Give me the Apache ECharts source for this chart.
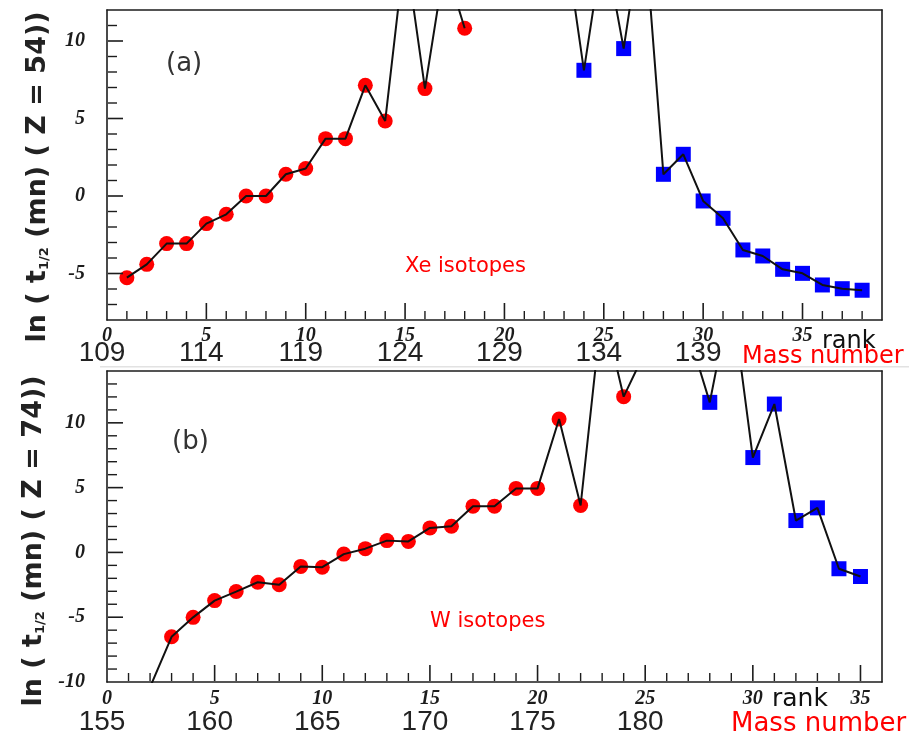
<!DOCTYPE html>
<html>
<head>
<meta charset="utf-8">
<title>Half-lives of Xe and W isotopes</title>
<script src="https://cdn.jsdelivr.net/npm/echarts@6/dist/echarts.min.js"></script>
<style>
  html, body { margin: 0; padding: 0; background: #fff; }
  #chart { width: 909px; height: 738px; }
</style>
</head>
<body>
<div id="chart"></div>
<script>
// ---- Xe (Z = 54): rank along the chain, ln of half-life in minutes ----
const xeRank = [1, 2, 3, 4, 5, 6, 7, 8, 9, 10, 11, 12, 13, 14, 15, 16, 17, 18, 19, 20,
                21, 22, 23, 24, 25, 26, 27, 28, 29, 30, 31, 32, 33, 34, 35, 36, 37, 38];
const xeLnT  = [-5.27, -4.41, -3.07, -3.07, -1.78, -1.18, 0.0, 0.0, 1.40, 1.77,
                3.70, 3.70, 7.14, 4.84, 16.0, 6.93, 15.0, 10.82, null, null,
                null, null, 17.0, 8.11, 16.5, 9.51, 18.0, 1.40, 2.69, -0.32,
                -1.44, -3.48, -3.87, -4.73, -4.99, -5.74, -5.98, -6.08];
const xeLightSideMaxRank = 22;          // red circles up to here, blue squares after

// ---- W (Z = 74) ----
const wRank = [2, 3, 4, 5, 6, 7, 8, 9, 10, 11, 12, 13, 14, 15, 16, 17, 18, 19, 20,
               21, 22, 23, 24, 25, 26, 27, 28, 29, 30, 31, 32, 33, 34, 35];
const wLnT  = [-10.4, -6.51, -5.01, -3.72, -3.02, -2.30, -2.50, -1.08, -1.14, -0.13,
               0.29, 0.91, 0.85, 1.89, 2.02, 3.57, 3.57, 4.94, 4.94, 10.29,
               3.62, 19.0, 12.02, 15.5, 20.0, 17.0, 11.58, 20.0, 7.32, 11.45,
               2.46, 3.44, -1.26, -1.86];
const wLightSideMaxRank = 25;

// ---- tick labels ----
const rankTicksXe = [0, 5, 10, 15, 20, 25, 30, 35];
const massTicksXe = ['109', '114', '119', '124', '129', '134', '139'];
const rankTicksW  = [0, 5, 10, 15, 20, 25, 30, 35];
const massTicksW  = ['155', '160', '165', '170', '175', '180'];
const yTicksXe = [-5, 0, 5, 10];
const yTicksW  = [-10, -5, 0, 5, 10];

// ---- axis ranges ----
const xeRankMax = 39, xeLnMin = -8, xeLnMax = 12;
const wRankMax = 36, wLnMin = -10, wLnMax = 14;

const RED = '#ff0000';
const BLUE = '#0000ff';
const INK = '#1c1c1c';
const SERIF = '"Liberation Serif", "DejaVu Serif", serif';
const SANS = '"DejaVu Sans", "Liberation Sans", sans-serif';

function pairs(ranks, vals) {
  return ranks.map((r, i) => [r, vals[i] === null ? '-' : vals[i]]);
}
function pick(ranks, vals, test) {
  const out = [];
  ranks.forEach((r, i) => { if (vals[i] !== null && test(r)) out.push([r, vals[i]]); });
  return out;
}
function intRange(a, b) {
  const out = [];
  for (let v = Math.ceil(a); v <= b; v++) out.push(v);
  return out;
}

const frameLine = { show: true, onZero: false, lineStyle: { color: INK, width: 1.6 } };
const noLine = { show: false, onZero: false };

// x axes per panel: rank labels + bottom edge, mass labels, top edge
function xAxesFor(gridIndex, max, rankTicks, massTicks, rankMargin, massMargin, massSize) {
  const base = {
    type: 'value', gridIndex, min: 0, max, interval: 5, position: 'bottom', offset: 0,
    splitLine: { show: false }, axisTick: { show: false }
  };
  return [
    Object.assign({}, base, {
      axisLine: frameLine,
      axisLabel: {
        margin: rankMargin, fontFamily: SERIF, fontStyle: 'italic', fontWeight: 'bold',
        fontSize: 20, color: INK,
        formatter: v => rankTicks.indexOf(v) >= 0 ? String(v) : ''
      }
    }),
    Object.assign({}, base, {
      axisLine: noLine,
      axisLabel: {
        margin: massMargin, fontFamily: '"Liberation Sans", sans-serif', fontSize: massSize,
        color: '#222', padding: [0, 10, 0, 0],
        formatter: v => {
          const k = rankTicks.indexOf(v);
          return k >= 0 && k < massTicks.length ? massTicks[k] : '';
        }
      }
    }),
    Object.assign({}, base, {
      position: 'top', axisLine: frameLine, axisLabel: { show: false }
    })
  ];
}

// y axes per panel: labels + left edge, right edge
function yAxesFor(gridIndex, min, max, yTicks) {
  const base = {
    type: 'value', gridIndex, min, max, position: 'left', offset: 0,
    splitLine: { show: false }, axisTick: { show: false }
  };
  return [
    Object.assign({}, base, {
      splitNumber: Math.round((max - min) / 5), minInterval: 5, maxInterval: 5,
      axisLine: frameLine,
      axisLabel: {
        margin: 22, fontFamily: SERIF, fontStyle: 'italic', fontWeight: 'bold',
        fontSize: 20, color: INK, showMinLabel: true, showMaxLabel: true,
        formatter: v => yTicks.indexOf(v) >= 0 ? String(v) : ''
      }
    }),
    Object.assign({}, base, {
      position: 'right', interval: 1, axisLine: frameLine, axisLabel: { show: false }
    })
  ];
}

// Inward tick marks on the bottom edge: each item holds a rank and a value inside the
// plot; the mark itself is anchored on the axis minimum.
function xTickSeries(xIdx, yIdx, xMax, yMin, yMax) {
  const yInside = (yMin + yMax) / 2;
  return {
    type: 'custom', xAxisIndex: xIdx, yAxisIndex: yIdx, z: 6, clip: false, silent: true,
    data: intRange(1, xMax - 1).map(v => [v, yInside]),
    renderItem: (params, api) => {
      const v = api.value(0);
      const base = api.coord([v, yMin]);
      const major = v % 5 === 0;
      const len = major ? 17 : 9;
      return {
        type: 'line',
        shape: { x1: base[0], y1: base[1] - 1, x2: base[0], y2: base[1] - len },
        style: { stroke: INK, lineWidth: major ? 1.6 : 1.4 }
      };
    }
  };
}

// Inward tick marks on the left edge, anchored on rank 0
function yTickSeries(xIdx, yIdx, xMax, yMin, yMax) {
  const xInside = xMax / 2;
  return {
    type: 'custom', xAxisIndex: xIdx, yAxisIndex: yIdx, z: 6, clip: false, silent: true,
    data: intRange(yMin + 1, yMax - 1).map(v => [xInside, v]),
    renderItem: (params, api) => {
      const v = api.value(1);
      const base = api.coord([0, v]);
      const major = Math.abs(v % 5) === 0;
      const len = major ? 16 : 10;
      return {
        type: 'line',
        shape: { x1: base[0] + 1, y1: base[1], x2: base[0] + len, y2: base[1] },
        style: { stroke: INK, lineWidth: major ? 1.6 : 1.4 }
      };
    }
  };
}

function panelSeries(xIdx, yIdx, ranks, vals, lightMax) {
  return [
    {
      type: 'scatter', xAxisIndex: xIdx, yAxisIndex: yIdx, z: 2,
      symbol: 'circle', symbolSize: 15, itemStyle: { color: RED, opacity: 1 },
      data: pick(ranks, vals, r => r <= lightMax), clip: true
    },
    {
      type: 'scatter', xAxisIndex: xIdx, yAxisIndex: yIdx, z: 2,
      symbol: 'rect', symbolSize: 15, itemStyle: { color: BLUE, opacity: 1 },
      data: pick(ranks, vals, r => r > lightMax), clip: true
    },
    {
      type: 'line', xAxisIndex: xIdx, yAxisIndex: yIdx, z: 3,
      showSymbol: false, symbol: 'none', connectNulls: false, clip: true,
      lineStyle: { color: '#111', width: 2 },
      data: pairs(ranks, vals)
    }
  ];
}

function axisTitle(x, y, z) {
  return {
    type: 'text', x, y, rotation: Math.PI / 2,
    style: {
      text: 'ln ( t{s|1/2} (mn) ( Z = ' + z + '))',
      fontFamily: SANS, fontSize: 27, fontWeight: 'bold', fill: '#222',
      align: 'center', verticalAlign: 'middle',
      rich: {
        s: { fontFamily: SANS, fontSize: 13, fontWeight: 'bold', fill: '#222',
             verticalAlign: 'bottom', padding: [12, 0, 0, 0] }
      }
    }
  };
}

function label(text, x, y, size, color, align) {
  return {
    type: 'text', x, y,
    style: { text, fontFamily: SANS, fontSize: size, fill: color,
             align: align || 'left', verticalAlign: 'middle' }
  };
}

const chart = echarts.init(document.getElementById('chart'), null, { renderer: 'canvas' });

chart.setOption({
  backgroundColor: '#ffffff',
  animation: false,
  grid: [
    { left: 107, top: 10, width: 775, height: 310, show: false },
    { left: 107, top: 371, width: 775, height: 311, show: false }
  ],
  xAxis: [
    ...xAxesFor(0, xeRankMax, rankTicksXe, massTicksXe, 6, 19, 28),
    ...xAxesFor(1, wRankMax, rankTicksW, massTicksW, 7, 26, 28)
  ],
  yAxis: [
    ...yAxesFor(0, xeLnMin, xeLnMax, yTicksXe),
    ...yAxesFor(1, wLnMin, wLnMax, yTicksW)
  ],
  series: [
    ...panelSeries(0, 0, xeRank, xeLnT, xeLightSideMaxRank),
    ...panelSeries(3, 2, wRank, wLnT, wLightSideMaxRank),
    xTickSeries(0, 0, xeRankMax, xeLnMin, xeLnMax),
    yTickSeries(0, 0, xeRankMax, xeLnMin, xeLnMax),
    xTickSeries(3, 2, wRankMax, wLnMin, wLnMax),
    yTickSeries(3, 2, wRankMax, wLnMin, wLnMax)
  ],
  graphic: [
    { type: 'rect', shape: { x: 100, y: 366, width: 809, height: 1.5 },
      style: { fill: '#e2e2e2' }, z: -1 },
    axisTitle(38, 177, 54),
    axisTitle(34, 541, 74),
    label('(a)', 166, 64, 26, '#333'),
    label('(b)', 172, 442, 26, '#333'),
    label('Xe isotopes', 405, 267, 21, RED),
    label('W isotopes', 430, 622, 21, RED),
    label('rank', 822, 342, 24, '#111'),
    label('Mass number', 742, 357, 24, RED),
    label('rank', 772, 699, 25, '#111'),
    label('Mass number', 731, 724, 26, RED)
  ]
});
</script>
</body>
</html>
